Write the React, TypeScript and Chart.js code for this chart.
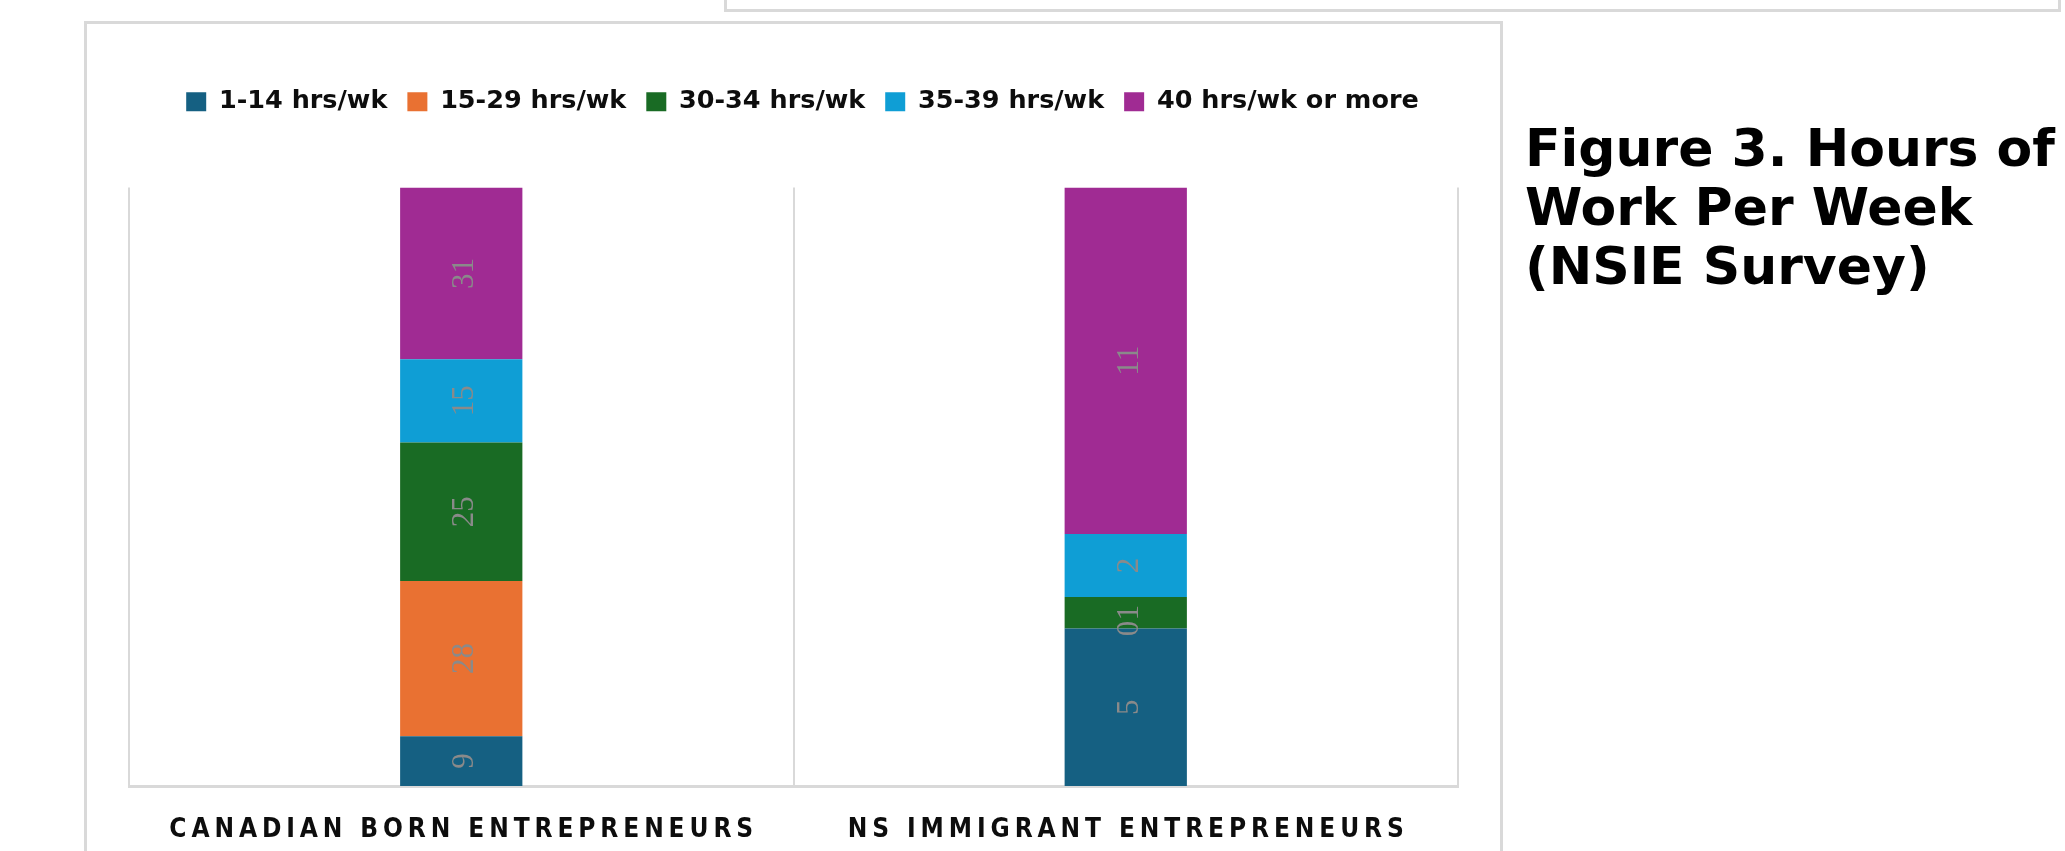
import React, { useEffect, useRef } from 'react';
import { Chart, registerables } from 'chart.js';

Chart.register(...registerables);

// ---- data ----
const categories = ['CANADIAN BORN ENTREPRENEURS', 'NS IMMIGRANT ENTREPRENEURS'];
const seriesNames = ['1-14 hrs/wk', '15-29 hrs/wk', '30-34 hrs/wk', '35-39 hrs/wk', '40 hrs/wk or more'];
const hrs1to14 = [9, 5];
const hrs15to29 = [28, 0];
const hrs30to34 = [25, 1];
const hrs35to39 = [15, 2];
const hrs40plus = [31, 11];
const seriesColors = ['#156082', '#E97132', '#196B24', '#0F9ED5', '#A02B93'];

const seriesValues = [hrs1to14, hrs15to29, hrs30to34, hrs35to39, hrs40plus];
const totals = categories.map((_, j) => seriesValues.reduce((s, arr) => s + arr[j], 0));

const LABEL_SPACING = 4.9;

const legendSpacer = {
  id: 'legendSpacer',
  beforeUpdate(chart: any) {
    const legend = chart.legend;
    if (legend && !legend.__patched) {
      const origFit = legend.fit;
      legend.fit = function () {
        origFit.call(this);
        this.height += 63;
      };
      const origDraw = legend.draw;
      legend.draw = function (...args: any[]) {
        const ctx = this.ctx;
        ctx.save();
        ctx.translate(9, 0);
        origDraw.apply(this, args);
        ctx.restore();
      };
      legend.__patched = true;
    }
  },
};

const valueLabels = {
  id: 'valueLabels',
  afterDatasetsDraw(chart: any) {
    const ctx = chart.ctx;
    ctx.save();
    ctx.font = '31px "Liberation Serif"';
    ctx.fillStyle = '#8a8a8a';
    ctx.textAlign = 'center';
    ctx.textBaseline = 'alphabetic';
    chart.data.datasets.forEach((_ds: any, i: number) => {
      const meta = chart.getDatasetMeta(i);
      meta.data.forEach((el: any, j: number) => {
        const { x, y, base } = el.getProps(['x', 'y', 'base'], true);
        const cy = (y + base) / 2;
        ctx.save();
        ctx.translate(x, cy);
        ctx.rotate(-Math.PI / 2);
        ctx.fillText(String(seriesValues[i][j]), 0, 12);
        ctx.restore();
      });
    });
    ctx.restore();
  },
};

const categoryLabels = {
  id: 'categoryLabels',
  afterDraw(chart: any) {
    const ctx = chart.ctx;
    const xScale = chart.scales.x;
    ctx.save();
    ctx.font = 'bold 26px "DejaVu Sans"';
    (ctx as any).fontStretch = 'condensed';
    ctx.fillStyle = '#0d0d0d';
    ctx.textBaseline = 'middle';
    ctx.textAlign = 'left';
    categories.forEach((c, i) => {
      (ctx as any).letterSpacing = '0px';
      const base = ctx.measureText(c).width;
      const w = base + LABEL_SPACING * (c.length - 1);
      (ctx as any).letterSpacing = LABEL_SPACING + 'px';
      const px = xScale.getPixelForValue(i);
      ctx.fillText(c, px - w / 2, xScale.bottom + 44);
    });
    ctx.restore();
  },
};

function HoursChart() {
  const ref = useRef<HTMLCanvasElement | null>(null);
  useEffect(() => {
    if (!ref.current) return;
    const chart = new Chart(ref.current, {
      type: 'bar',
      data: {
        labels: categories,
        datasets: seriesNames.map((name, i) => ({
          label: name,
          data: seriesValues[i].map((v, j) => (v / totals[j]) * 100),
          backgroundColor: seriesColors[i],
          borderWidth: 0,
          barPercentage: 0.184,
          categoryPercentage: 1,
        })),
      },
      options: {
        responsive: false,
        animation: false,
        devicePixelRatio: 1,
        layout: { padding: { left: 26, right: 41, top: 43, bottom: 65 } },
        plugins: {
          legend: {
            position: 'top',
            labels: {
              font: { family: '"DejaVu Sans"', size: 25.5, weight: 'bold' },
              color: '#0d0d0d',
              boxWidth: 20,
              boxHeight: 19,
              padding: 20,
            },
          },
          tooltip: { enabled: false },
        },
        scales: {
          x: {
            stacked: true,
            grid: { color: '#d9d9d9', lineWidth: 2, drawTicks: false, offset: true },
            border: { display: true, color: '#d9d9d9', width: 3 },
            ticks: { display: false },
          },
          y: {
            stacked: true,
            min: 0,
            max: 100,
            display: false,
          },
        },
      } as any,
      plugins: [legendSpacer, valueLabels, categoryLabels],
    });
    return () => chart.destroy();
  }, []);
  return <canvas ref={ref} width={1396} height={825} style={{ width: 1396, height: 825, display: 'block' }} />;
}

export default function App() {
  return (
    <div style={{ position: 'absolute', left: 0, top: 0, width: 2065, height: 851, overflow: 'hidden', background: '#fff' }}>
      <div style={{ position: 'absolute', left: 724, top: -30, width: 1337, height: 42, border: '3px solid #d9d9d9', boxSizing: 'border-box' }} />
      <div style={{ position: 'absolute', left: 84, top: 21, width: 1419, height: 900, border: '3px solid #d9d9d9', boxSizing: 'border-box', background: '#fff' }} />
      <div style={{ position: 'absolute', left: 103, top: 26, width: 1396, height: 825 }}>
        <HoursChart />
      </div>
      <div
        style={{
          position: 'absolute',
          left: 1525,
          top: 119,
          font: 'bold 52px "DejaVu Sans"',
          lineHeight: '59px',
          whiteSpace: 'nowrap',
          color: '#000',
        }}
      >
        <div>Figure 3. Hours of</div>
        <div>Work Per Week</div>
        <div>(NSIE Survey)</div>
      </div>
    </div>
  );
}
